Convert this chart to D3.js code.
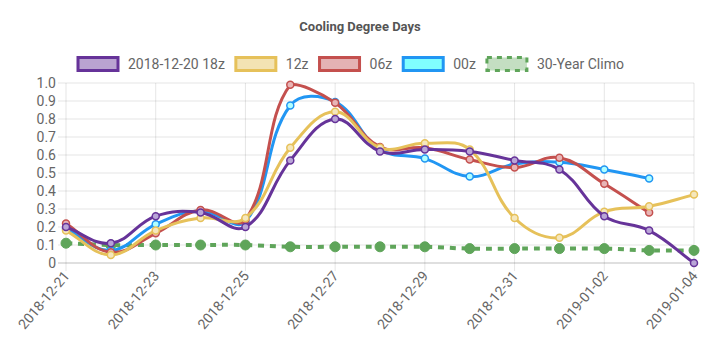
<!DOCTYPE html>
<html>
<head>
<meta charset="utf-8">
<script src="https://cdn.jsdelivr.net/npm/d3@7"></script>
<style>
  html, body { margin: 0; padding: 0; background: #fff; }
  svg { display: block; font-family: Roboto, "Noto Sans", sans-serif; }
</style>
</head>
<body>
<svg id="chart" width="720" height="356"></svg>
<script>
// ---- data ----
const dates = ["2018-12-21","2018-12-22","2018-12-23","2018-12-24","2018-12-25","2018-12-26","2018-12-27","2018-12-28","2018-12-29","2018-12-30","2018-12-31","2019-01-01","2019-01-02","2019-01-03","2019-01-04"];
const run18z = [0.20,0.11,0.26,0.28,0.20,0.57,0.80,0.62,0.63,0.62,0.57,0.52,0.26,0.18,0.00];
const run12z = [0.18,0.045,0.18,0.25,0.25,0.64,0.84,0.64,0.665,0.63,0.25,0.14,0.285,0.315,0.38];
const run06z = [0.22,0.06,0.165,0.295,0.24,0.99,0.89,0.645,0.64,0.575,0.53,0.585,0.44,0.28,null];
const run00z = [0.19,0.07,0.215,0.29,0.23,0.875,0.895,0.63,0.58,0.48,0.55,0.56,0.52,0.47,null];
const climo  = [0.11,0.10,0.10,0.10,0.10,0.09,0.09,0.09,0.09,0.08,0.08,0.08,0.08,0.07,0.07];
const yTicks = [0,0.1,0.2,0.3,0.4,0.5,0.6,0.7,0.8,0.9,1.0];
const seriesNames = ["2018-12-20 18z","12z","06z","00z","30-Year Climo"];

const series = [
  {name: seriesNames[0], values: run18z, stroke: "#663399", fill: "rgba(102,51,153,0.45)", dash: null, pointFill: "rgba(185,165,215,1)", r: 3.5},
  {name: seriesNames[1], values: run12z, stroke: "#e6c15a", fill: "rgba(240,220,160,0.8)", dash: null, pointFill: "#f5e7bd", r: 3.5},
  {name: seriesNames[2], values: run06z, stroke: "#c4504e", fill: "rgba(228,178,180,1)", dash: null, pointFill: "#e8b5b6", r: 3.5},
  {name: seriesNames[3], values: run00z, stroke: "#2196f3", fill: "#80ffff", dash: null, pointFill: "#b0ffff", r: 3.5},
  {name: seriesNames[4], values: climo, stroke: "#5fa55a", fill: "rgba(196,222,194,1)", dash: "6,6", pointFill: "#5fa55a", r: 5}
];

// ---- layout ----
const W = 720, H = 356;
const pL = 66, pR = 694, pT = 83, pB = 263;
const svg = d3.select("#chart");

const x = d3.scalePoint().domain(dates).range([pL, pR]).padding(0);
const y = d3.scaleLinear().domain([0, 1]).range([pB, pT]);

// title
svg.append("text").attr("x", 360).attr("y", 31).attr("text-anchor", "middle")
  .attr("font-size", 13).attr("font-weight", "bold").attr("fill", "#555")
  .text("Cooling Degree Days");

// legend
const legend = svg.append("g");
let lx = 78;
const ly = 64;
series.forEach(s => {
  legend.append("rect").attr("x", lx).attr("y", ly - 6.5).attr("width", 40).attr("height", 13)
    .attr("fill", s.fill).attr("stroke", s.stroke).attr("stroke-width", 3)
    .attr("stroke-dasharray", s.dash ? "5,5" : null);
  const t = legend.append("text").attr("x", lx + 50).attr("y", ly + 5)
    .attr("font-size", 14).attr("fill", "#666").text(s.name);
  const w = t.node().getComputedTextLength();
  lx += 50 + w + 11;
});

// grid - horizontal
const gy = svg.append("g");
yTicks.forEach(v => {
  gy.append("line").attr("x1", pL - 8).attr("x2", pR)
    .attr("y1", y(v)).attr("y2", y(v))
    .attr("stroke", v === 0 ? "rgba(0,0,0,0.25)" : "rgba(0,0,0,0.1)").attr("stroke-width", 1);
});
// y labels via axis
const yAxis = d3.axisLeft(y).tickValues(yTicks).tickSize(0).tickPadding(0)
  .tickFormat(d => d === 0 ? "0" : d.toFixed(1));
const yg = svg.append("g").attr("transform", `translate(${pL - 10},0)`).call(yAxis);
yg.select(".domain").remove();
yg.selectAll("text").attr("font-size", 14).attr("fill", "#666").attr("font-family", "Roboto, sans-serif");

// grid - vertical (labelled ticks only)
const shown = dates.filter((d, i) => i % 2 === 0);
shown.forEach(d => {
  svg.append("line").attr("x1", x(d)).attr("x2", x(d)).attr("y1", pT).attr("y2", pB + 8)
    .attr("stroke", "rgba(0,0,0,0.1)").attr("stroke-width", 1);
});
const xAxis = d3.axisBottom(x).tickValues(shown).tickSize(0).tickPadding(0);
const xg = svg.append("g").attr("transform", `translate(0,${pB + 10})`).call(xAxis);
xg.select(".domain").remove();
xg.selectAll("text")
  .attr("font-size", 14).attr("fill", "#666").attr("font-family", "Roboto, sans-serif")
  .attr("text-anchor", "end").attr("dy", "0.35em").attr("y", 0).attr("x", 0)
  .attr("transform", "rotate(-50)");

// Chart.js-like spline curve
function chartjsCurve(context) {
  const tension = 0.4;
  let pts = [];
  const clampX = v => Math.max(pL, Math.min(pR, v));
  const clampY = v => Math.max(pT, Math.min(pB, v));
  return {
    areaStart() {}, areaEnd() {},
    lineStart() { pts = []; },
    point(px, py) { pts.push([+px, +py]); },
    lineEnd() {
      const n = pts.length;
      if (!n) return;
      const cps = pts.map((p, i) => {
        const pr = pts[Math.max(0, i - 1)], nx = pts[Math.min(n - 1, i + 1)];
        const d01 = Math.hypot(p[0] - pr[0], p[1] - pr[1]);
        const d12 = Math.hypot(nx[0] - p[0], nx[1] - p[1]);
        let s01 = d01 / (d01 + d12), s12 = d12 / (d01 + d12);
        if (!isFinite(s01)) s01 = 0; if (!isFinite(s12)) s12 = 0;
        const fa = tension * s01, fb = tension * s12;
        return {
          prev: [clampX(p[0] - fa * (nx[0] - pr[0])), clampY(p[1] - fa * (nx[1] - pr[1]))],
          next: [clampX(p[0] + fb * (nx[0] - pr[0])), clampY(p[1] + fb * (nx[1] - pr[1]))]
        };
      });
      context.moveTo(pts[0][0], pts[0][1]);
      for (let i = 1; i < n; i++) {
        context.bezierCurveTo(cps[i - 1].next[0], cps[i - 1].next[1], cps[i].prev[0], cps[i].prev[1], pts[i][0], pts[i][1]);
      }
    }
  };
}

const line = d3.line()
  .defined(d => d.v !== null)
  .x(d => x(d.date)).y(d => y(d.v))
  .curve(chartjsCurve);

// draw last dataset first so first is on top
series.slice().reverse().forEach(s => {
  const data = dates.map((d, i) => ({date: d, v: s.values[i]}));
  const g = svg.append("g");
  g.append("path").datum(data).attr("d", line)
    .attr("fill", "none").attr("stroke", s.stroke).attr("stroke-width", s.dash ? 4 : 3)
    .attr("stroke-dasharray", s.dash);
  g.selectAll("circle").data(data.filter(d => d.v !== null)).enter().append("circle")
    .attr("cx", d => x(d.date)).attr("cy", d => y(d.v)).attr("r", s.r)
    .attr("fill", s.pointFill).attr("stroke", s.stroke).attr("stroke-width", s.dash ? 1 : 1.5);
});
</script>
</body>
</html>
